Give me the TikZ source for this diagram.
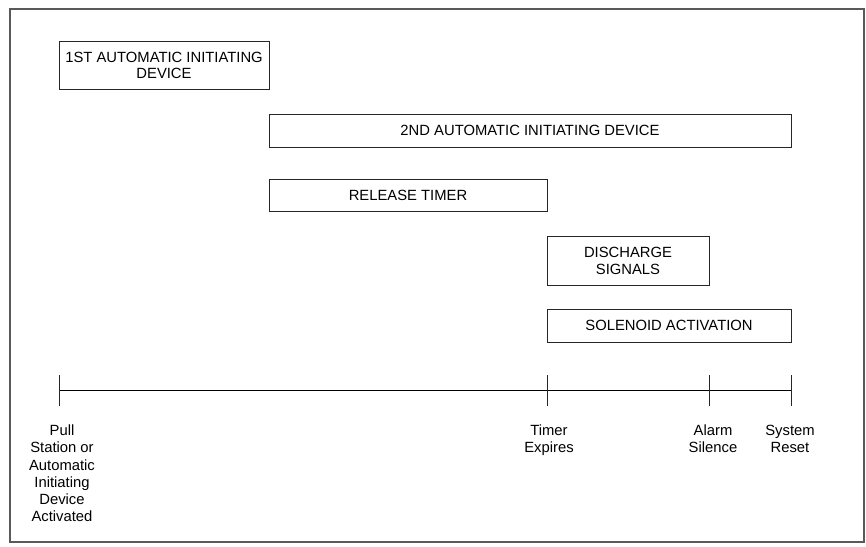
\documentclass[tikz,border=0pt]{standalone}
\usepackage{fontspec}
\setmainfont{Liberation Sans}
\begin{document}
\begin{tikzpicture}[x=1pt,y=-1pt,
  phase/.style={draw=black!85, line width=0.8pt, fill=white, inner sep=0pt,
    align=center, font=\fontsize{14.8}{16.8}\selectfont},
  evlabel/.style={anchor=north, inner sep=0pt, align=center,
    font=\fontsize{14.8}{17.3}\selectfont},
  axis/.style={draw=black, line width=0.8pt},
  tick/.style={draw=black!85, line width=0.8pt}]
  % page and outer frame
  \useasboundingbox (0,0) rectangle (866,546);
  \draw[draw=black!65, line width=1.3pt] (10,9) rectangle (864,542);

  % activity bars
  \node[phase, minimum width=210pt, minimum height=48pt] (dev1) at (164,65.5)
    {1ST AUTOMATIC INITIATING\\DEVICE};
  \node[phase, minimum width=522pt, minimum height=33pt] (dev2) at (530,130.5)
    {2ND AUTOMATIC INITIATING DEVICE};
  \node[phase, minimum width=278pt, minimum height=32pt] (timer) at (408,195)
    {RELEASE TIMER};
  \node[phase, minimum width=162pt, minimum height=49pt] (disch) at (628,260.5)
    {DISCHARGE\\SIGNALS};
  \node[phase, minimum width=244pt, minimum height=33pt] (sol) at (669,325.5)
    {SOLENOID ACTIVATION};

  % time axis and event marks
  \coordinate (t0) at (59,390);
  \coordinate (t1) at (547,390);
  \coordinate (t2) at (709,390);
  \coordinate (t3) at (791,390);
  \draw[axis] (t0) -- (t3);
  \foreach \t in {t0,t1,t2,t3}
    \draw[tick] ([yshift=15pt]\t) -- ([yshift=-16pt]\t);

  % event labels
  \node[evlabel] (l0) at (62,424.5)
    {Pull\\Station or\\Automatic\\Initiating\\Device\\Activated};
  \node[evlabel] (l1) at (549,424.5) {Timer\\Expires};
  \node[evlabel] (l2) at (713,424.5) {Alarm\\Silence};
  \node[evlabel] (l3) at (790,424.5) {System\\Reset};
\end{tikzpicture}
\end{document}
